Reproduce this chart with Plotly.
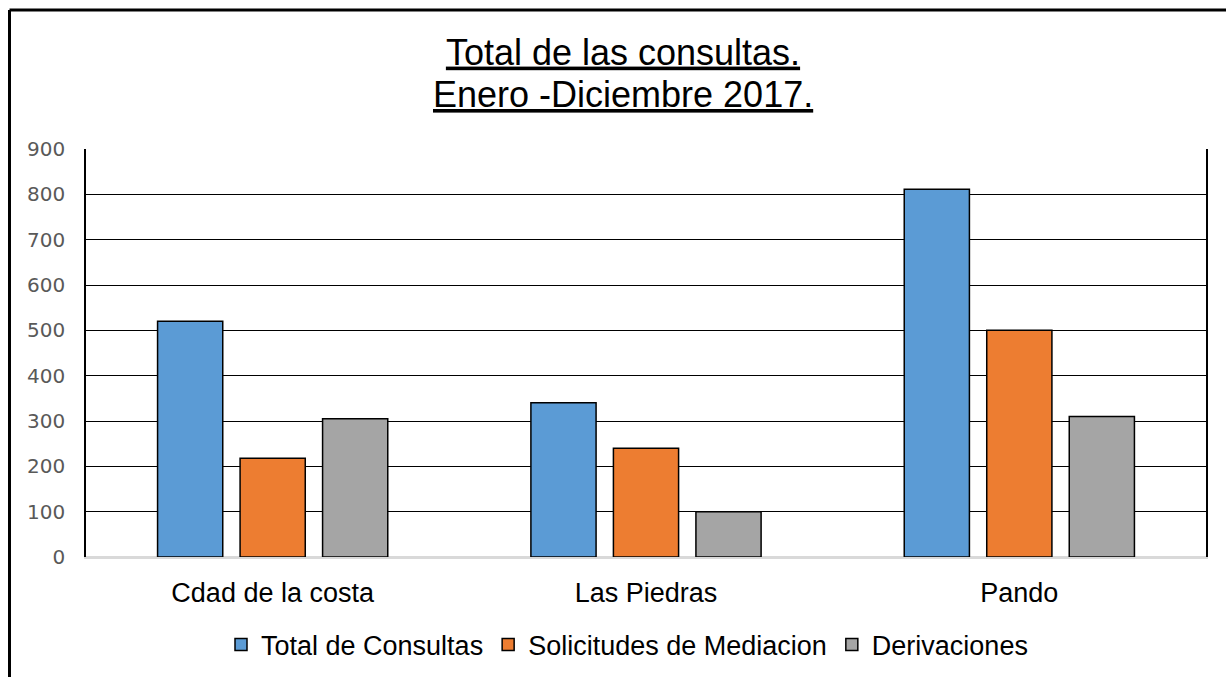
import plotly.graph_objects as go

categories = ["Cdad de la costa", "Las Piedras", "Pando"]
total_consultas = [520, 340, 811]
solicitudes_mediacion = [218, 240, 500]
derivaciones = [305, 100, 310]
y_ticks = [0, 100, 200, 300, 400, 500, 600, 700, 800, 900]
title_line1 = "Total de las consultas."
title_line2 = "Enero -Diciembre 2017."

series = [
    ("Total de Consultas", total_consultas, "#5B9BD5"),
    ("Solicitudes de Mediacion", solicitudes_mediacion, "#ED7D31"),
    ("Derivaciones", derivaciones, "#A5A5A5"),
]

W, H = 1226, 677
L, R, T, B = 86, 20, 149, 120
pw, ph = W - L - R, H - T - B

def px_x(p):
    return (p - L) / pw

def px_y(p):
    return (H - B - p) / ph

FONT = "Liberation Sans, Arial, sans-serif"

fig = go.Figure()
for name, vals, col in series:
    fig.add_trace(go.Bar(
        x=categories, y=vals, name=name,
        marker=dict(color=col, line=dict(color="black", width=1.5)),
    ))

fig.update_layout(
    width=W, height=H,
    margin=dict(l=L, r=R, t=T, b=B, autoexpand=False),
    paper_bgcolor="white", plot_bgcolor="white",
    barmode="group", bargap=0.337, bargroupgap=0.21,
    title=dict(
        text="<u>" + title_line1 + "</u>",
        x=623 / W, xanchor="center", xref="container",
        y=1 - 52 / H, yanchor="middle", yref="container",
        font=dict(family=FONT, size=36, color="black"),
    ),
    xaxis=dict(
        showline=True, linecolor="#D9D9D9", linewidth=1.5,
        showgrid=False, ticks="", automargin=False,
        tickfont=dict(family=FONT, size=27, color="black"),
        ticklabelstandoff=11,
    ),
    yaxis=dict(
        range=[0, 900], tickvals=y_ticks, automargin=False,
        showline=True, linecolor="black", linewidth=1.5, mirror=True,
        showgrid=True, gridcolor="black", gridwidth=1.2,
        zeroline=True, zerolinecolor="#D9D9D9", zerolinewidth=1.5,
        ticks="", ticklabelstandoff=15,
        tickfont=dict(family="DejaVu Sans, sans-serif", size=20, color="#595959"),
    ),
    legend=dict(
        orientation="h", x=px_x(627), xanchor="center",
        y=px_y(645), yanchor="middle",
        font=dict(family=FONT, size=27, color="black"),
        bgcolor="rgba(0,0,0,0)",
    ),
    showlegend=True,
)

fig.add_annotation(
    text="<u>" + title_line2 + "</u>", showarrow=False,
    xref="paper", yref="paper", x=px_x(623), y=px_y(94),
    xanchor="center", yanchor="middle",
    font=dict(family=FONT, size=36, color="black"),
)

# outer frame lines (top and left)
fig.add_shape(type="line", xref="paper", yref="paper",
              x0=px_x(9.5), x1=px_x(W + 2), y0=px_y(10), y1=px_y(10),
              line=dict(color="black", width=3))
fig.add_shape(type="line", xref="paper", yref="paper",
              x0=px_x(9.5), x1=px_x(9.5), y0=px_y(10), y1=px_y(H + 2),
              line=dict(color="black", width=3))

fig.write_html("out.html", config={"displayModeBar": False},
               post_script="document.body.style.margin='0';")
